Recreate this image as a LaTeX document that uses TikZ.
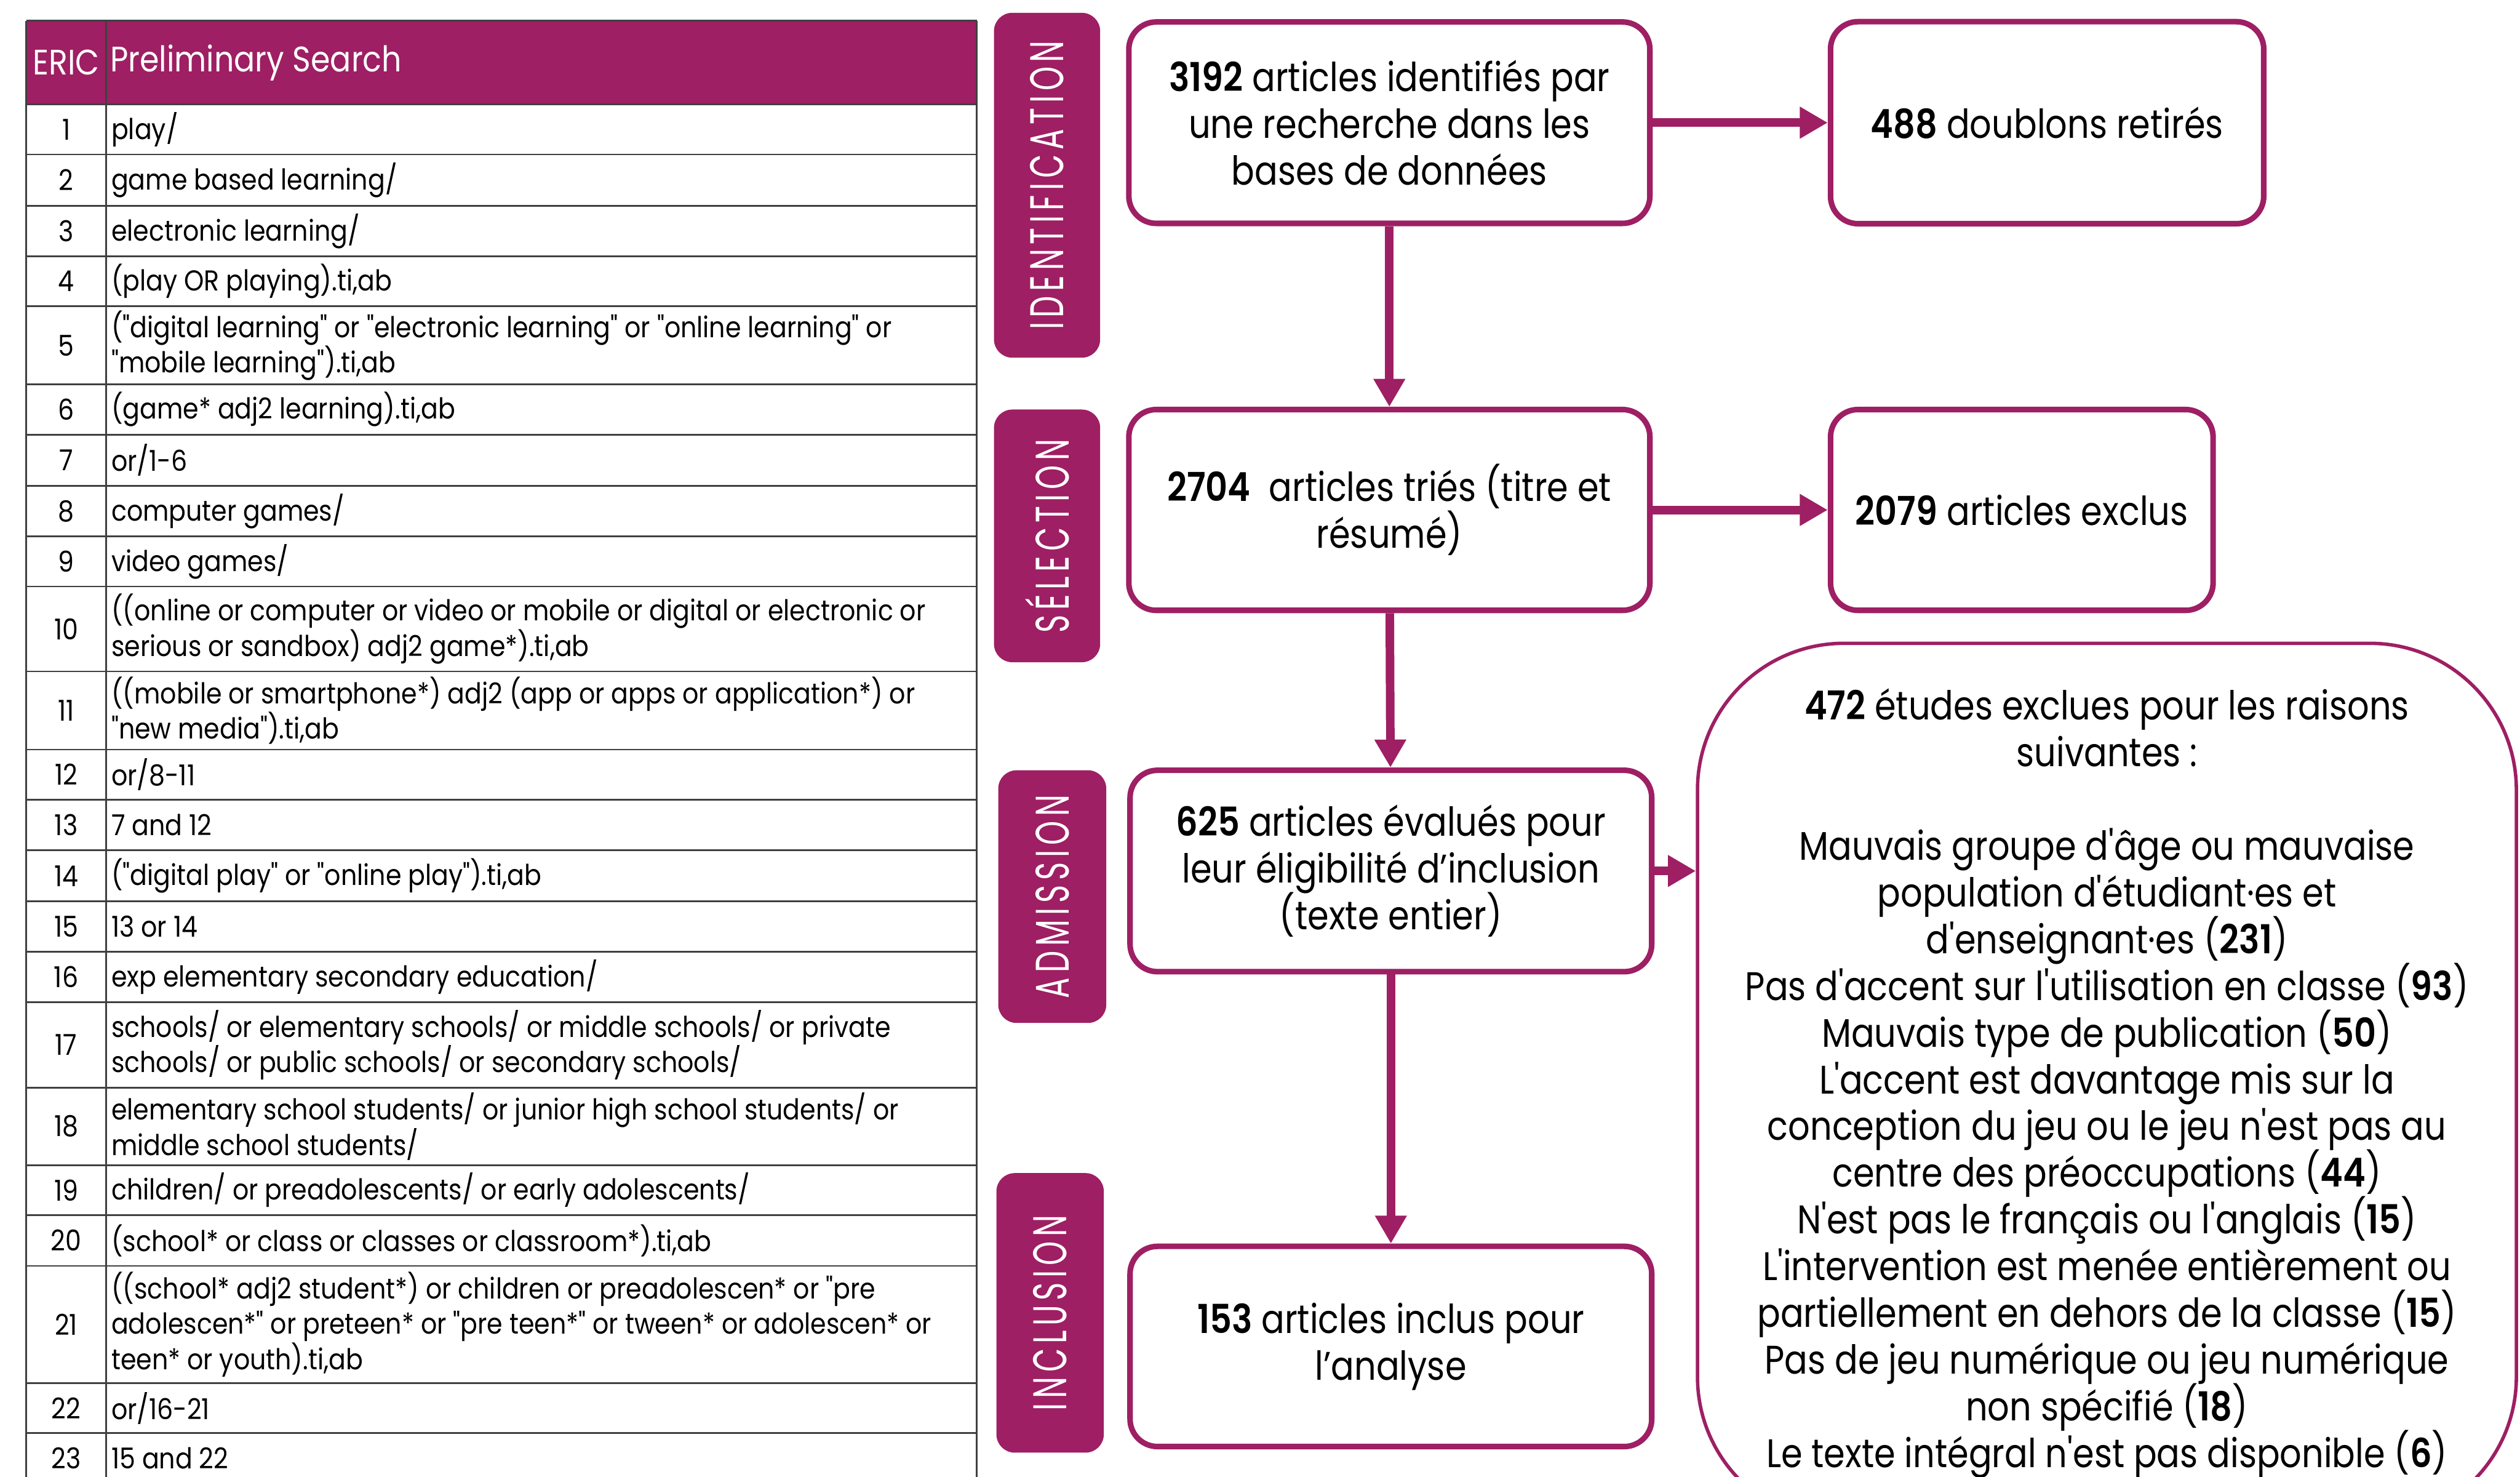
\documentclass[tikz,border=0pt]{standalone}
\usepackage{fontspec}
\setmainfont{Poppins}
\newfontfamily\tabfont[FakeStretch=0.88]{Poppins}
\newfontfamily\boxfont[FakeStretch=0.86,BoldFont={Poppins SemiBold}]{Poppins}
\newfontfamily\phasefont[FakeStretch=0.65,LetterSpace=10]{Poppins}
\usetikzlibrary{arrows.meta}
\definecolor{plum}{RGB}{158,31,99}
\tikzset{
  gridline/.style={draw=black!75, line width=0.8pt},
  headcell/.style={text=white, inner sep=0pt, font=\tabfont\fontsize{16.5}{19}\selectfont},
  numcell/.style={inner sep=0pt, font=\tabfont\fontsize{13.4}{16.5}\selectfont},
  txtcell/.style={anchor=west, align=left, inner sep=0pt, font=\tabfont\fontsize{13.4}{16.5}\selectfont},
  phase/.style={fill=plum, rounded corners=0.3cm, text=white, rotate=90, inner sep=0pt, font=\phasefont\fontsize{22}{24}\selectfont},
  stepbox/.style={draw=plum, line width=2.6pt, fill=white, rounded corners=0.45cm, align=center, inner sep=0pt, font=\boxfont\fontsize{18.6}{21.8}\selectfont},
  flow/.style={draw=plum, line width=4pt, -{Triangle[length=13pt,width=14pt]}}
}
\begin{document}
\setlength{\lineskiplimit}{-20pt}
\begin{tikzpicture}[x=1cm,y=-1cm]
\useasboundingbox (0,0) rectangle (41.30,24.19);
% search table
\fill[plum] (0.43,0.34) rectangle (16.01,1.71);
\foreach \y in {0.34,1.71,2.53,3.37,4.20,5.02,6.30,7.12,7.96,8.79,9.61,11.00,12.28,13.10,13.93,14.77,15.59,16.42,17.82,19.09,19.91,20.74,22.66,23.48}
  \draw[gridline] (0.43,\y) -- (16.01,\y);
\foreach \x in {0.43,1.74,16.01}
  \draw[gridline] (\x,0.34) -- (\x,24.6);
\node[headcell] (h0) at (1.085,1.025) {ERIC};
\node[headcell, anchor=west] (h1) at (1.80,1.025) {Preliminary Search};
\node[numcell] (n1) at (1.085,2.12) {1};
\node[txtcell] (t1) at (1.82,2.12) {play/};
\node[numcell] (n2) at (1.085,2.95) {2};
\node[txtcell] (t2) at (1.82,2.95) {game based learning/};
\node[numcell] (n3) at (1.085,3.785) {3};
\node[txtcell] (t3) at (1.82,3.785) {electronic learning/};
\node[numcell] (n4) at (1.085,4.61) {4};
\node[txtcell] (t4) at (1.82,4.61) {(play OR playing).ti,ab};
\node[numcell] (n5) at (1.085,5.66) {5};
\node[txtcell] (t5) at (1.82,5.66) {("digital learning" or "electronic learning" or "online learning" or\\"mobile learning").ti,ab};
\node[numcell] (n6) at (1.085,6.71) {6};
\node[txtcell] (t6) at (1.82,6.71) {(game* adj2 learning).ti,ab};
\node[numcell] (n7) at (1.085,7.54) {7};
\node[txtcell] (t7) at (1.82,7.54) {or/1-6};
\node[numcell] (n8) at (1.085,8.375) {8};
\node[txtcell] (t8) at (1.82,8.375) {computer games/};
\node[numcell] (n9) at (1.085,9.20) {9};
\node[txtcell] (t9) at (1.82,9.20) {video games/};
\node[numcell] (n10) at (1.085,10.305) {10};
\node[txtcell] (t10) at (1.82,10.305) {((online or computer or video or mobile or digital or electronic or\\serious or sandbox) adj2 game*).ti,ab};
\node[numcell] (n11) at (1.085,11.64) {11};
\node[txtcell] (t11) at (1.82,11.64) {((mobile or smartphone*) adj2 (app or apps or application*) or\\"new media").ti,ab};
\node[numcell] (n12) at (1.085,12.69) {12};
\node[txtcell] (t12) at (1.82,12.69) {or/8-11};
\node[numcell] (n13) at (1.085,13.515) {13};
\node[txtcell] (t13) at (1.82,13.515) {7 and 12};
\node[numcell] (n14) at (1.085,14.35) {14};
\node[txtcell] (t14) at (1.82,14.35) {("digital play" or "online play").ti,ab};
\node[numcell] (n15) at (1.085,15.18) {15};
\node[txtcell] (t15) at (1.82,15.18) {13 or 14};
\node[numcell] (n16) at (1.085,16.005) {16};
\node[txtcell] (t16) at (1.82,16.005) {exp elementary secondary education/};
\node[numcell] (n17) at (1.085,17.12) {17};
\node[txtcell] (t17) at (1.82,17.12) {schools/ or elementary schools/ or middle schools/ or private\\schools/ or public schools/ or secondary schools/};
\node[numcell] (n18) at (1.085,18.455) {18};
\node[txtcell] (t18) at (1.82,18.455) {elementary school students/ or junior high school students/ or\\middle school students/};
\node[numcell] (n19) at (1.085,19.50) {19};
\node[txtcell] (t19) at (1.82,19.50) {children/ or preadolescents/ or early adolescents/};
\node[numcell] (n20) at (1.085,20.325) {20};
\node[txtcell] (t20) at (1.82,20.325) {(school* or class or classes or classroom*).ti,ab};
\node[numcell] (n21) at (1.085,21.70) {21};
\node[txtcell] (t21) at (1.82,21.70) {((school* adj2 student*) or children or preadolescen* or "pre\\adolescen*" or preteen* or "pre teen*" or tween* or adolescen* or\\teen* or youth).ti,ab};
\node[numcell] (n22) at (1.085,23.07) {22};
\node[txtcell] (t22) at (1.82,23.07) {or/16-21};
\node[numcell] (n23) at (1.085,23.895) {23};
\node[txtcell] (t23) at (1.82,23.895) {15 and 22};
% phases
\node[phase, minimum width=5.65cm, minimum height=1.74cm] (pid) at (17.16,3.035) {IDENTIFICATION};
\node[phase, minimum width=4.14cm, minimum height=1.74cm] (psel) at (17.16,8.78) {SÉLECTION};
\node[phase, minimum width=4.14cm, minimum height=1.77cm] (padm) at (17.245,14.69) {ADMISSION};
\node[phase, minimum width=4.58cm, minimum height=1.76cm] (pinc) at (17.21,21.51) {INCLUSION};
% flow boxes
\node[stepbox, minimum width=8.54cm, minimum height=3.30cm] (ident) at (22.77,2.01) {\textbf{3192} articles identifiés par\\une recherche dans les\\bases de données};
\node[stepbox, minimum width=7.10cm, minimum height=3.31cm] (dup) at (33.55,2.01) {\textbf{488} doublons retirés};
\node[stepbox, minimum width=8.54cm, minimum height=3.29cm] (screen) at (22.77,8.355) {\textbf{2704}\ \ articles triés (titre et\\résumé)};
\node[stepbox, minimum width=6.27cm, minimum height=3.29cm] (excl) at (33.135,8.355) {\textbf{2079} articles exclus};
\node[stepbox, minimum width=8.55cm, minimum height=3.30cm] (elig) at (22.795,14.27) {\textbf{625} articles évalués pour\\leur éligibilité d’inclusion\\(texte entier)};
\node[stepbox, minimum width=8.55cm, minimum height=3.28cm] (incl) at (22.795,22.06) {\textbf{153} articles inclus pour\\l’analyse};
\node[stepbox, line width=1.6pt, rounded corners=2.4cm, minimum width=13.42cm, minimum height=14.42cm] (reasons) at (34.53,17.75) {\textbf{472} études exclues pour les raisons\\suivantes :\\[21.8pt]
Mauvais groupe d'âge ou mauvaise\\population d'étudiant·es et\\d'enseignant·es (\textbf{231})\\
Pas d'accent sur l'utilisation en classe (\textbf{93})\\
Mauvais type de publication (\textbf{50})\\
L'accent est davantage mis sur la\\conception du jeu ou le jeu n'est pas au\\centre des préoccupations (\textbf{44})\\
N'est pas le français ou l'anglais (\textbf{15})\\
L'intervention est menée entièrement ou\\partiellement en dehors de la classe (\textbf{15})\\
Pas de jeu numérique ou jeu numérique\\non spécifié (\textbf{18})\\
Le texte intégral n'est pas disponible (\textbf{6})};
% arrows
\draw[flow] (ident) -- (dup);
\draw[flow] (ident) -- (screen);
\draw[flow] (screen) -- (excl);
\draw[flow] (screen) -- (elig);
\draw[flow] (elig) -- (incl);
\draw[flow] (elig.east) -- (elig.east -| reasons.west);
\end{tikzpicture}
\end{document}
